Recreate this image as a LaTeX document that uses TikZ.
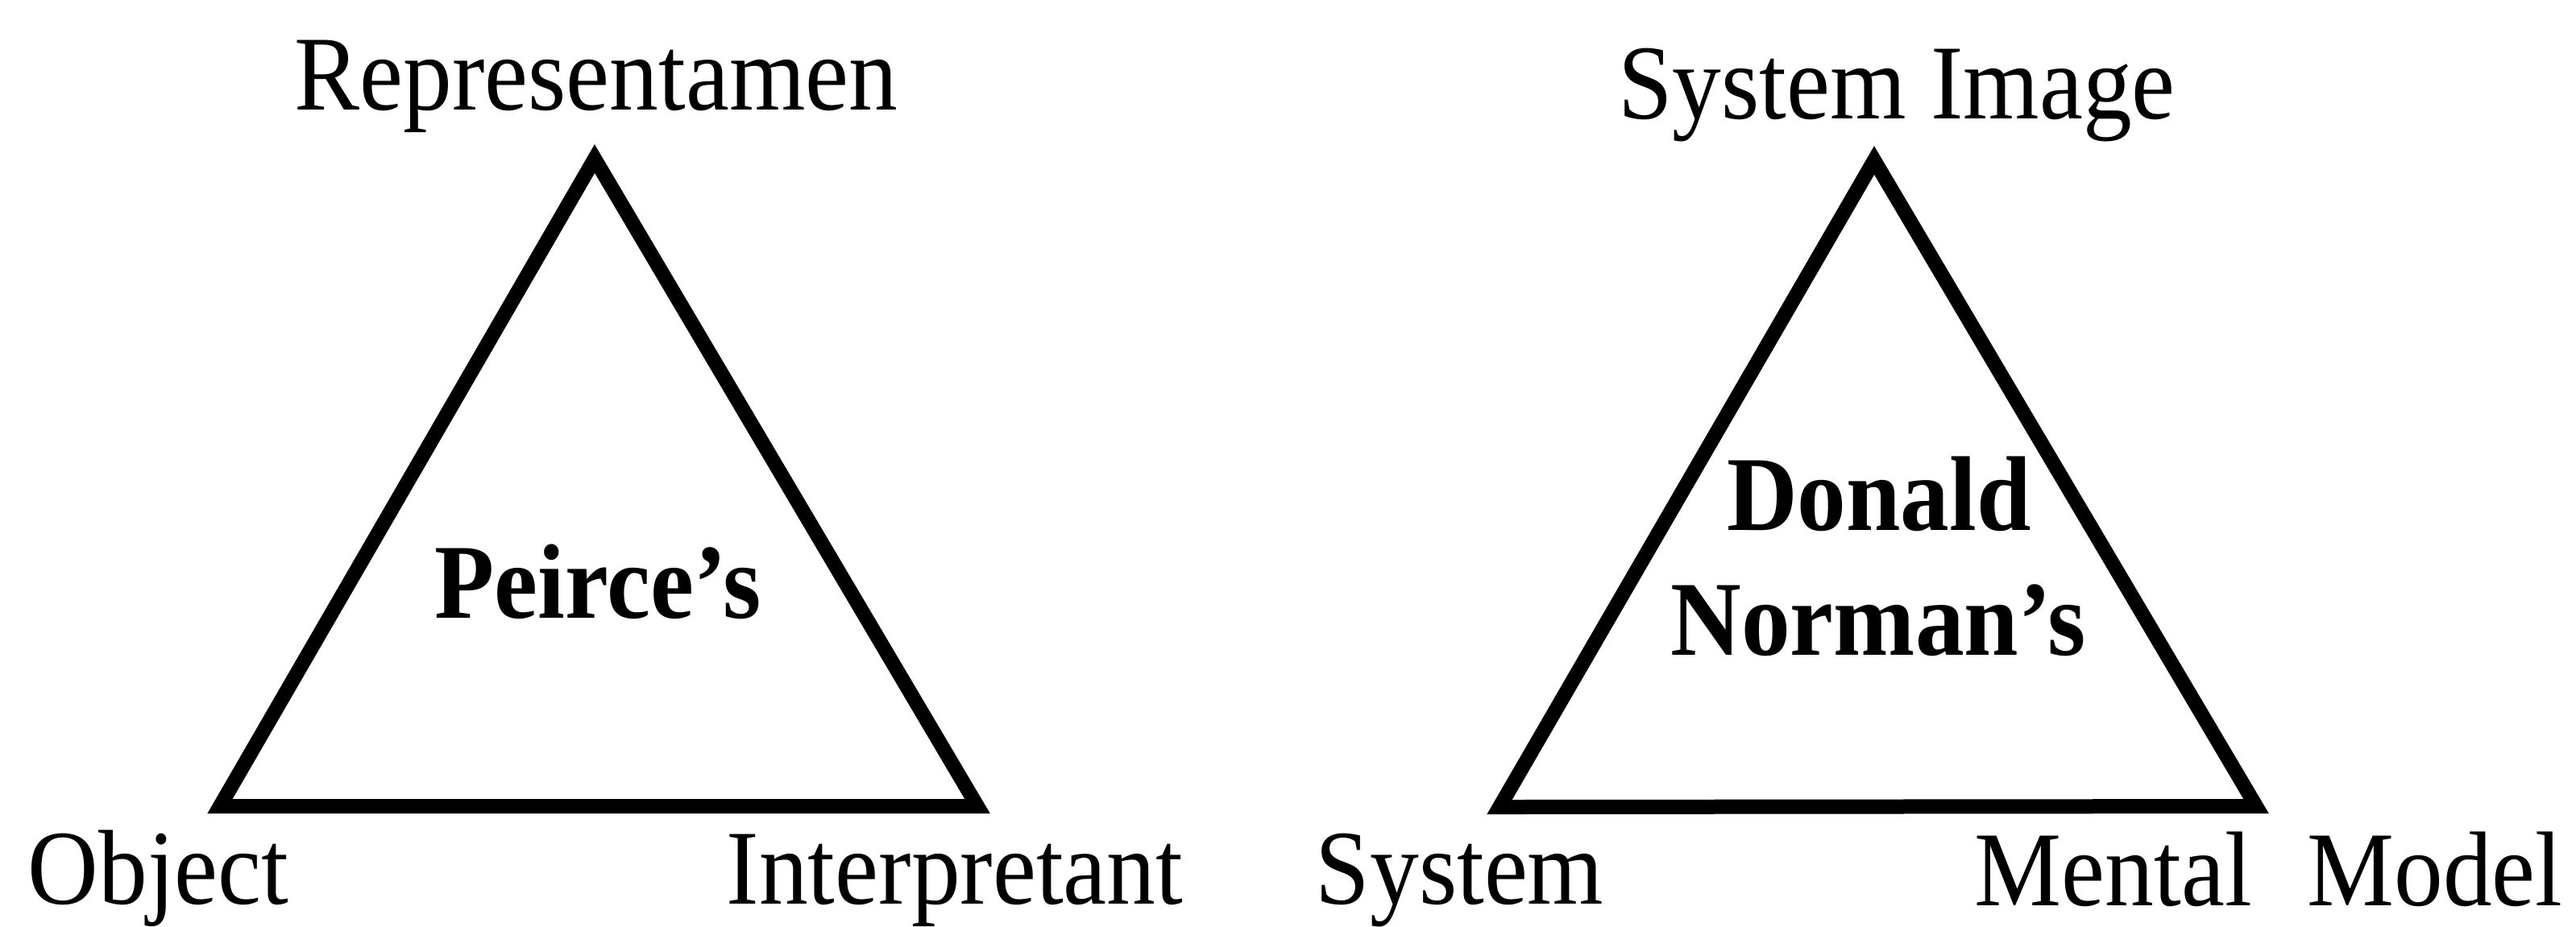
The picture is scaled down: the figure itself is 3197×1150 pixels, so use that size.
\documentclass[tikz,border=0pt]{standalone}
\usepackage{fontspec}
\setmainfont{Liberation Serif}[FakeStretch=0.92]
\begin{document}
\begin{tikzpicture}[x=0.25pt,y=-0.25pt,
  lbl/.style={inner sep=0pt,font=\fontsize{33pt}{40pt}\selectfont},
  ttl/.style={inner sep=0pt,font=\fontsize{33pt}{40pt}\selectfont\bfseries},
  tri/.style={line width=4.5pt,line join=miter,draw=black}]
\useasboundingbox (0,0) rectangle (3197,1150);
% Peirce triangle
\coordinate (pR) at (738,197);
\coordinate (pO) at (273,1001);
\coordinate (pI) at (1213,1001);
\draw[tri] (pR) -- (pO) -- (pI) -- cycle;
% Norman triangle
\coordinate (nS) at (2326,199);
\coordinate (nY) at (1861,1002);
\coordinate (nM) at (2800,1001);
\draw[tri] (nS) -- (nY) -- (nM) -- cycle;
% labels
\node[lbl,anchor=base] (rep) at (740,136) {Representamen};
\node[lbl,anchor=base west] (obj) at (34,1122) {Object};
\node[lbl,anchor=base east] (int) at (1469,1122) {Interpretant};
\node[ttl,anchor=base] (peirce) at (742,767) {Peirce’s};
\node[lbl,anchor=base] (simg) at (2354,147) {System Image};
\node[lbl,anchor=base west] (sys) at (1632,1122) {System};
\node[lbl,anchor=base west] (mm) at (2450,1124) {Mental\hspace{0.52em}Model};
\node[ttl,anchor=base] (donald) at (2332,658) {Donald};
\node[ttl,anchor=base] (norman) at (2331,813) {Norman’s};
\end{tikzpicture}
\end{document}
